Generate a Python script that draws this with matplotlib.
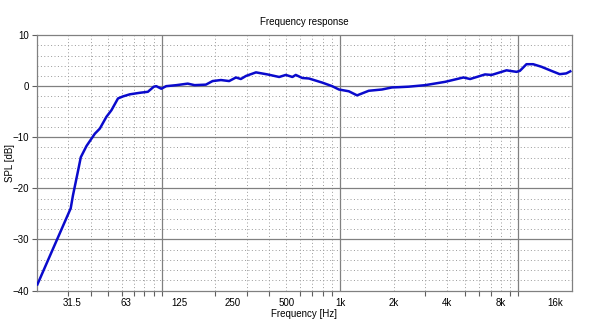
import numpy as np
import matplotlib
matplotlib.use("Agg")
import matplotlib.pyplot as plt
from matplotlib.ticker import FixedLocator, NullFormatter

plt.rcParams['font.family'] = ['Liberation Sans', 'DejaVu Sans']

# measured response, smoothed
freq_hz = [20.1, 30.9, 31.8, 34.0, 35.2, 37.9, 42.2, 45.0, 49.0, 52.3, 56.9,
           60.7, 66.2, 75.2, 83.7, 90.4, 93.3, 99.5, 106, 121, 140, 153, 177,
           193, 215, 239, 261, 278, 297, 338, 392, 456, 497, 541, 565, 615,
           670, 795, 904, 986, 1121, 1247, 1450, 1720, 1956, 2130, 2426,
           3006, 3890, 4922, 5367, 6508, 7084, 8590, 9772, 10208, 11110,
           12110, 13474, 15324, 17074, 18582, 19568]
spl_db = [-38.8, -23.9, -21.4, -16.5, -13.9, -11.7, -9.3, -8.3, -6.0, -4.7,
          -2.4, -2.0, -1.6, -1.3, -1.1, -0.1, 0.0, -0.5, 0.0, 0.2, 0.5, 0.2,
          0.3, 1.0, 1.2, 1.0, 1.7, 1.4, 2.0, 2.7, 2.3, 1.8, 2.2, 1.8, 2.2,
          1.6, 1.5, 0.7, 0.0, -0.65, -1.0, -1.8, -0.9, -0.65, -0.25, -0.2,
          -0.1, 0.2, 0.85, 1.7, 1.4, 2.3, 2.2, 3.1, 2.8, 3.0, 4.3, 4.3, 3.8,
          3.0, 2.35, 2.5, 2.9]

tick_labels = ['31.5', '63', '125', '250', '500', '1k', '2k', '4k', '8k', '16k']
tick_freqs = [31.5, 63, 125, 250, 500, 1000, 2000, 4000, 8000, 16000]

fig = plt.figure(figsize=(6.0, 3.34), dpi=100)
ax = fig.add_axes([0.0617, 0.130, 0.8916, 0.765])

ax.set_xscale('log')
ax.set_xlim(20, 20000)
ax.set_ylim(-40, 10)

# grid: solid decades / 10 dB, dotted minors / 2 dB
decades = [100, 1000, 10000]
minors = [m * d for d in [10, 100, 1000, 10000] for m in range(2, 10)
          if 20 < m * d < 20000]
for f in minors:
    ax.axvline(f, color='#9a9a9a', lw=0.7, ls=(0, (1, 2.5)), zorder=1)
for f in decades:
    ax.axvline(f, color='#808080', lw=0.9, zorder=1)
for y in range(-38, 10, 2):
    if y % 10:
        ax.axhline(y, color='#9a9a9a', lw=0.7, ls=(0, (1, 2.5)), zorder=1)
for y in range(-30, 10, 10):
    ax.axhline(y, color='#808080', lw=0.9, zorder=1)

ax.plot(freq_hz, spl_db, color='#0a0acc', lw=1.8, zorder=3)

ax.xaxis.set_major_locator(FixedLocator(tick_freqs))
ax.set_xticklabels(tick_labels)
ax.xaxis.set_minor_locator(FixedLocator(sorted(set(minors + decades + tick_freqs))))
ax.xaxis.set_minor_formatter(NullFormatter())
ax.set_yticks(range(-40, 11, 10))
ax.tick_params(axis='both', which='both', direction='out', length=3.5,
               width=0.8, color='#606060', labelsize=7, pad=2)
ax.tick_params(axis='x', which='major', length=0, pad=5)

for s in ax.spines.values():
    s.set_color('#808080')
    s.set_linewidth(0.9)

ax.set_title('Frequency response', fontsize=7, pad=7)
ax.set_xlabel('Frequency [Hz]', fontsize=7, labelpad=1)
ax.set_ylabel('SPL [dB]', fontsize=7)
ax.yaxis.set_label_coords(-0.042, 0.5)

fig.savefig('out.png', dpi=100)
